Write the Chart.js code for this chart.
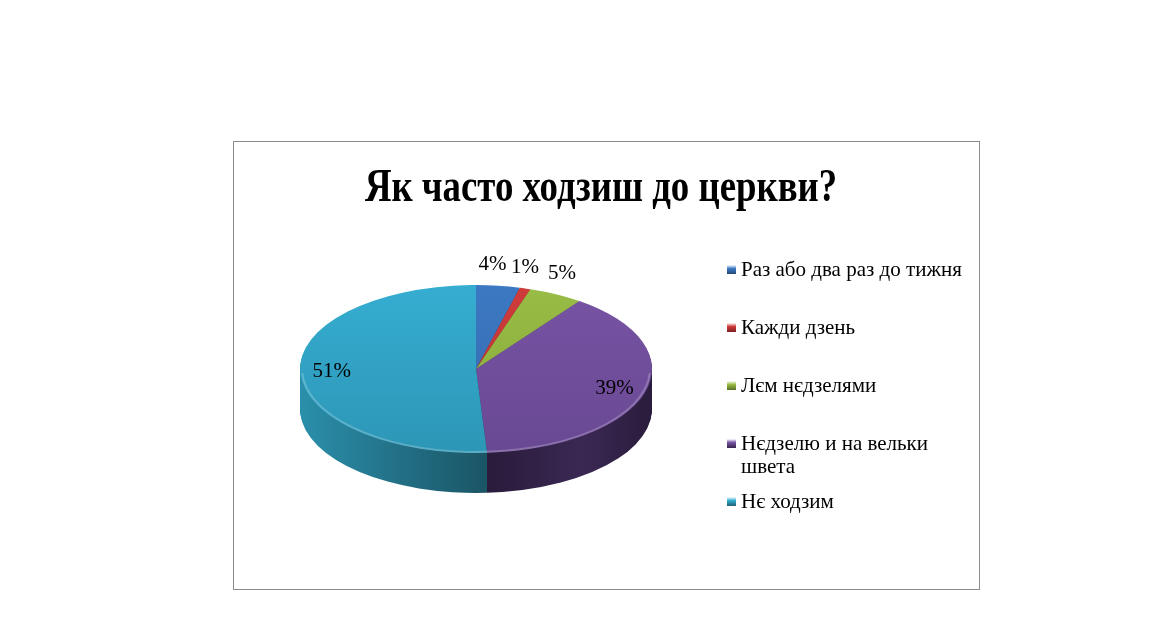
<!DOCTYPE html>
<html>
<head>
<meta charset="utf-8">
<script src="https://cdn.jsdelivr.net/npm/chart.js@4.4.1/dist/chart.umd.min.js"></script>
<style>
  html, body { margin: 0; padding: 0; background: #fff; }
  #wrap { position: relative; width: 1170px; height: 627px; }
</style>
</head>
<body>
<div id="wrap"><canvas id="churchChart" width="1170" height="627"></canvas></div>
<script>
const chartTitle = 'Як часто ходзиш до церкви?';
const categories = ['Раз або два раз до тижня', 'Кажди дзень', 'Лєм нєдзелями', 'Нєдзелю и на вельки швета', 'Нє ходзим'];
const percents = [4, 1, 5, 39, 51];

// top face colours (light -> dark) and side wall colours
const topColors = ['#3c79c3', '#cf3b3b', '#98bc45', '#7854a4', '#35add1'];
const topDark = ['#3568ab', '#b83434', '#88a83d', '#694893', '#2d96b6'];
const sideColors = [
  ['#2c5c96', '#1e3f68'],
  ['#9c2a2a', '#6e1c1c'],
  ['#6f8a30', '#4d6021'],
  ['#3a2853', '#2a1c3c'],
  ['#2b8fab', '#1a5363']
];

const TILT = 0.477;   // vertical squash of the pie
const DEPTH = 40;     // thickness of the pie in px
const FONT = "'Liberation Serif', 'Times New Roman', serif";

function tiltAround(ctx, cx, cy, dy) {
  ctx.translate(cx, cy + dy);
  ctx.scale(1, TILT);
  ctx.translate(-cx, -cy);
}

const boxPlugin = {
  id: 'box',
  beforeDraw(chart) {
    const ctx = chart.ctx;
    ctx.save();
    ctx.strokeStyle = '#8c8c8c';
    ctx.lineWidth = 1;
    ctx.strokeRect(233.5, 141.5, 746, 448);
    // title, slightly condensed like the original
    ctx.fillStyle = '#000';
    ctx.font = 'bold 46px ' + FONT;
    ctx.textAlign = 'center';
    ctx.textBaseline = 'alphabetic';
    ctx.translate(601, 201);
    ctx.scale(0.8, 1);
    ctx.fillText(chartTitle, 0, 0);
    ctx.restore();
  }
};

const pie3dPlugin = {
  id: 'pie3d',
  beforeDatasetsDraw(chart) {
    const ctx = chart.ctx;
    const arcs = chart.getDatasetMeta(0).data;
    if (!arcs.length) return;
    const cx = arcs[0].x, cy = arcs[0].y, r = arcs[0].outerRadius;
    // side walls: stack darker copies of each wedge
    for (let d = DEPTH; d >= 1; d--) {
      arcs.forEach((arc, i) => {
        ctx.save();
        tiltAround(ctx, cx, cy, d);
        const g = ctx.createLinearGradient(cx - r, 0, cx + r, 0);
        g.addColorStop(0, sideColors[i][0]);
        g.addColorStop(0.55, sideColors[i][1]);
        g.addColorStop(0.8, sideColors[i][0]);
        g.addColorStop(1, sideColors[i][1]);
        ctx.fillStyle = g;
        ctx.beginPath();
        ctx.moveTo(cx, cy);
        ctx.arc(cx, cy, r, arc.startAngle, arc.endAngle);
        ctx.closePath();
        ctx.fill();
        ctx.restore();
      });
    }
    ctx.save();
    tiltAround(ctx, cx, cy, 0);
  },
  afterDatasetsDraw(chart) {
    const ctx = chart.ctx;
    const arcs = chart.getDatasetMeta(0).data;
    if (!arcs.length) return;
    const cx = arcs[0].x, cy = arcs[0].y, r = arcs[0].outerRadius;
    // soft light rim along the front edge of the top face
    ctx.beginPath();
    ctx.arc(cx, cy, r - 2, 0.05, Math.PI - 0.05);
    ctx.restore();
    ctx.save();
    ctx.strokeStyle = 'rgba(255,255,255,0.22)';
    ctx.lineWidth = 2;
    ctx.stroke();
    ctx.restore();
    // percentage labels
    ctx.save();
    ctx.fillStyle = '#000';
    ctx.font = '21px ' + FONT;
    ctx.textAlign = 'center';
    ctx.textBaseline = 'middle';
    arcs.forEach((arc, i) => {
      const mid = (arc.startAngle + arc.endAngle) / 2;
      const v = percents[i];
      let x, y;
      if (v < 10) {
        x = cx + r * 1.2 * Math.cos(mid) - 10;
        y = cy + r * TILT * Math.sin(mid) - 21;
      } else {
        x = cx + r * 0.82 * Math.cos(mid);
        y = cy + r * 0.82 * TILT * Math.sin(mid);
      }
      ctx.fillText(v + '%', x, y);
    });
    ctx.restore();
  }
};

const legendPlugin = {
  id: 'sideLegend',
  afterDraw(chart) {
    const ctx = chart.ctx;
    const labels = chart.data.labels;
    const x0 = 727, y0 = 270, step = 58, lineH = 23, maxW = 225;
    ctx.save();
    ctx.font = '21px ' + FONT;
    ctx.textBaseline = 'middle';
    ctx.textAlign = 'left';
    labels.forEach((label, i) => {
      const y = y0 + i * step;
      const g = ctx.createLinearGradient(0, y - 5, 0, y + 5);
      g.addColorStop(0, '#ffffff');
      g.addColorStop(0.35, topColors[i]);
      g.addColorStop(1, sideColors[i][1]);
      ctx.fillStyle = g;
      ctx.fillRect(x0, y - 5, 9, 9);
      ctx.fillStyle = '#000';
      // word wrap
      const words = label.split(' ');
      let line = '', ly = y;
      words.forEach(w => {
        const test = line ? line + ' ' + w : w;
        if (ctx.measureText(test).width > maxW && line) {
          ctx.fillText(line, x0 + 14, ly);
          line = w;
          ly += lineH;
        } else {
          line = test;
        }
      });
      ctx.fillText(line, x0 + 14, ly);
    });
    ctx.restore();
  }
};

new Chart(document.getElementById('churchChart'), {
  type: 'pie',
  data: {
    labels: categories,
    datasets: [{
      data: percents,
      backgroundColor: (c) => {
        const area = c.chart.chartArea;
        if (!area) return topColors[c.dataIndex];
        const g = c.chart.ctx.createLinearGradient(0, area.top, 0, area.bottom);
        g.addColorStop(0, topColors[c.dataIndex]);
        g.addColorStop(1, topDark[c.dataIndex]);
        return g;
      },
      borderWidth: 0,
      hoverOffset: 0
    }]
  },
  options: {
    responsive: false,
    animation: false,
    layout: { padding: { left: 300, right: 518, top: 193, bottom: 82 } },
    plugins: {
      legend: { display: false },
      title: { display: false },
      tooltip: { enabled: false }
    },
    events: []
  },
  plugins: [boxPlugin, pie3dPlugin, legendPlugin]
});
</script>
</body>
</html>
